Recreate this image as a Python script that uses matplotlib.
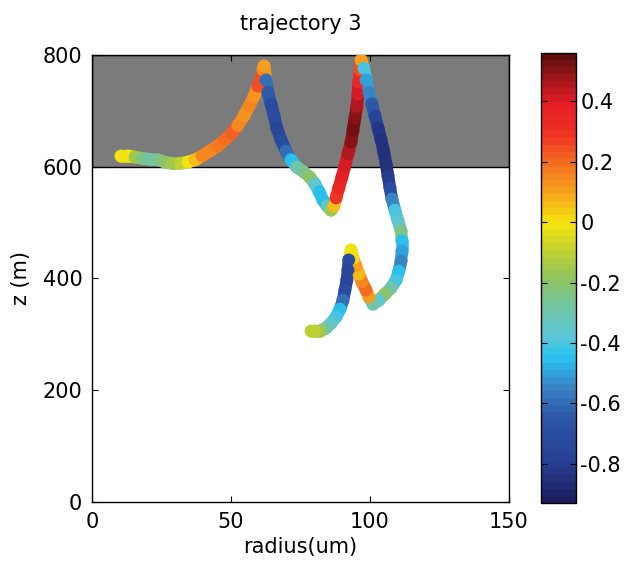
import matplotlib
matplotlib.use("Agg")
import matplotlib.pyplot as plt
import numpy as np
from matplotlib.collections import LineCollection
from matplotlib.colors import LinearSegmentedColormap

plt.rcParams["font.family"] = ["DejaVu Sans"]
plt.rcParams["axes.unicode_minus"] = False

# trajectory samples: radius (um), height z (m), colour value
radius = [
    10.4, 12.9, 15.5, 18.0, 20.9, 23.7, 26.3, 28.8, 31.7, 34.5, 37.1, 39.6,
    42.4, 45.3, 47.8, 50.4, 52.5, 54.7, 56.5, 58.3, 59.7, 60.8, 61.5, 61.9,
    62.6, 63.3, 64.4, 65.5, 66.5, 68.0, 69.8, 71.6, 73.7, 76.3, 78.4, 80.2,
    81.7, 83.1, 84.5, 86.0,
    87.1, 87.8, 88.8, 89.9, 91.0, 92.1, 93.2, 93.9, 94.6, 95.3, 95.7, 96.0,
    96.4, 96.8,
    97.8, 98.6, 99.6, 100.7, 101.8, 102.9, 104.0, 105.0, 105.8, 106.5, 107.2,
    107.9, 109.0, 110.1, 111.2, 111.5, 111.5, 111.2, 110.4, 109.4, 107.6,
    105.4, 103.2, 101.1,
    99.6, 98.6, 97.1, 96.0, 95.0, 93.9, 93.2,
    92.4, 92.1, 91.7, 91.0, 90.3, 89.2, 87.8, 86.0, 84.2, 82.0, 80.2, 78.8,
]
z = [
    619, 619, 617, 615, 613, 612, 608, 606, 606, 608, 612, 619,
    628, 637, 648, 660, 674, 691, 708, 726, 744, 758, 773, 780,
    755, 733, 712, 691, 669, 648, 628, 612, 599, 590, 581, 569,
    555, 540, 530, 522,
    530, 544, 562, 581, 601, 623, 644, 665, 687, 708, 730, 751,
    773, 791,
    776, 755, 733, 712, 691, 669, 648, 626, 605, 583, 562,
    542, 522, 503, 485, 467, 449, 431, 413, 397, 383,
    372, 361, 354,
    367, 379, 394, 408, 422, 436, 451,
    433, 415, 397, 379, 361, 345, 331, 320, 311, 306, 306, 306,
]
value = [
    0.00, 0.00, -0.15, -0.25, -0.30, -0.25, -0.20, -0.15, -0.10, 0.00, 0.05, 0.15,
    0.15, 0.18, 0.20, 0.22, 0.15, 0.12, 0.15, 0.12, 0.25, 0.25, 0.15, 0.10,
    -0.60, -0.65, -0.70, -0.72, -0.75, -0.72, -0.60, -0.45, -0.30, -0.25, -0.20, -0.35,
    -0.45, -0.45, -0.35, -0.15,
    0.05, 0.30, 0.35, 0.38, 0.40, 0.45, 0.50, 0.53, 0.50, 0.45, 0.40, 0.35,
    0.25, 0.10,
    -0.40, -0.50, -0.55, -0.65, -0.75, -0.82, -0.85, -0.85, -0.85, -0.80, -0.70,
    -0.55, -0.40, -0.35, -0.25, -0.45, -0.50, -0.55, -0.45, -0.40, -0.30,
    -0.20, -0.35, -0.30,
    0.10, 0.20, 0.15, 0.05, 0.10, 0.02, 0.00,
    -0.70, -0.75, -0.75, -0.70, -0.60, -0.45, -0.40, -0.35, -0.30, -0.15, -0.10, -0.10,
]
cbar_ticks = [-0.8, -0.6, -0.4, -0.2, 0, 0.2, 0.4]
cbar_labels = ["-0.8", "-0.6", "-0.4", "-0.2", "0", "0.2", "0.4"]

vmin, vmax = -0.93, 0.56

# softened jet, 64 steps
anchors = [
    (0.000, "#1b1f5e"), (0.087, "#273f94"), (0.188, "#2d57a6"),
    (0.255, "#3a85c6"), (0.322, "#29c3f0"), (0.369, "#5cc6d6"),
    (0.436, "#72c4a2"), (0.503, "#92c45a"), (0.570, "#c8d42c"),
    (0.624, "#f5e50f"), (0.691, "#f8a51c"), (0.758, "#f37022"),
    (0.826, "#ee3124"), (0.893, "#e31e26"), (0.946, "#a6171c"),
    (1.000, "#5e0d0d"),
]
cmap = LinearSegmentedColormap.from_list("soft_jet", anchors, N=64)
norm = plt.Normalize(vmin, vmax)

fs = 15
fig = plt.figure(figsize=(6.27, 5.77), dpi=100)
ax = fig.add_axes([0.1467, 0.130, 0.665, 0.775])
cax = fig.add_axes([0.8628, 0.128, 0.0558, 0.780])

# shaded upper layer
ax.axhspan(600, 800, facecolor="#7b7b7b", edgecolor="black", linewidth=1.0, zorder=0)

pts = np.column_stack([radius, z])
segs = np.stack([pts[:-1], pts[1:]], axis=1)
lc = LineCollection(segs, cmap=cmap, norm=norm, linewidths=9.0, capstyle="round", zorder=2)
lc.set_array(np.asarray(value[:-1]))
ax.add_collection(lc)
sc = ax.scatter(radius, z, c=value, cmap=cmap, norm=norm, s=85, edgecolors="none", zorder=3)

ax.set_xlim(0, 150)
ax.set_ylim(0, 800)
ax.set_xticks([0, 50, 100, 150])
ax.set_yticks([0, 200, 400, 600, 800])
ax.tick_params(direction="in", length=4, labelsize=fs, top=True, right=True, pad=7)
ax.set_xlabel("radius(um)", fontsize=fs, labelpad=4)
ax.set_ylabel("z (m)", fontsize=fs, labelpad=8)
ax.set_title("trajectory 3", fontsize=fs, pad=18)
for s in ax.spines.values():
    s.set_linewidth(1.0)

cb = fig.colorbar(sc, cax=cax)
cb.set_ticks(cbar_ticks)
cb.set_ticklabels(cbar_labels)
cax.tick_params(direction="in", length=4, labelsize=fs, left=True, right=True, pad=3)
cb.outline.set_linewidth(1.0)

fig.savefig("out.png", dpi=100)
